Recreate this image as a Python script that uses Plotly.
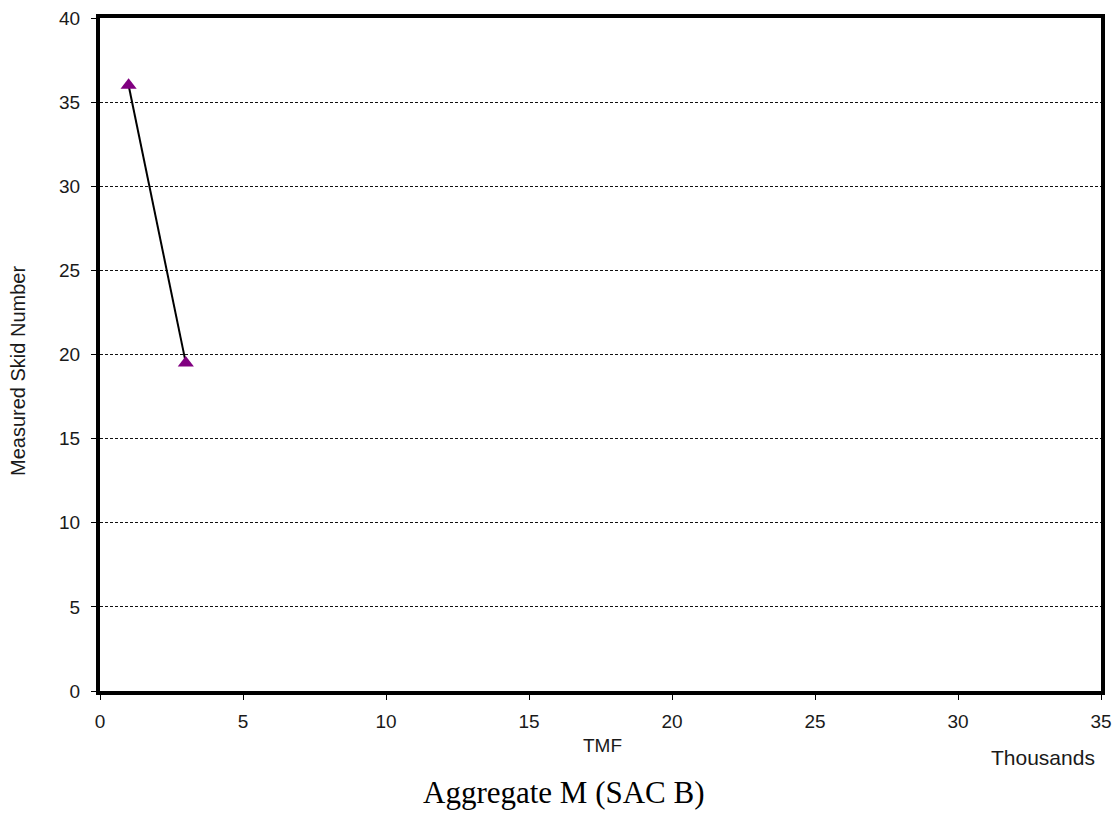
import plotly.graph_objects as go

tmf = [1000, 3000]
skid = [36.0, 19.5]
x_tickvals = [0, 5000, 10000, 15000, 20000, 25000, 30000, 35000]
x_ticktext = ["0", "5", "10", "15", "20", "25", "30", "35"]
y_tickvals = [0, 5, 10, 15, 20, 25, 30, 35, 40]

fig = go.Figure()
fig.add_trace(go.Scatter(
    x=tmf, y=skid, mode="lines+markers",
    line=dict(color="black", width=2),
    marker=dict(symbol="triangle-up", size=14, color="#800080"),
    showlegend=False,
))

W, H = 1115, 815
L, R, T, B = 100, 1101, 18, 691
PW, PH = R - L, B - T

def px(x):
    return (x - L) / PW

def py(y):
    return (B - y) / PH

font_sans = "Liberation Sans, Arial, sans-serif"
fig.update_layout(
    width=W, height=H,
    margin=dict(l=L, r=W - R, t=T, b=H - B, pad=0, autoexpand=False),
    paper_bgcolor="white", plot_bgcolor="white",
    font=dict(family=font_sans, size=19, color="#1a1a1a"),
    xaxis=dict(
        range=[0, 35000], tickvals=x_tickvals, ticktext=x_ticktext,
        showgrid=False, zeroline=False, automargin=False,
        showline=True, mirror=True, linewidth=4, linecolor="black",
        ticks="outside", ticklen=5, tickwidth=1, tickcolor="black",
        tickfont=dict(size=19), ticklabelstandoff=5, ticklabeloverflow="allow",
    ),
    yaxis=dict(
        range=[0, 40], tickvals=y_tickvals,
        showgrid=True, gridcolor="#111", gridwidth=1, griddash="3px,2px",
        zeroline=False, automargin=False,
        showline=True, mirror=True, linewidth=4, linecolor="black",
        ticks="outside", ticklen=5, tickwidth=1, tickcolor="black",
        tickfont=dict(size=19), ticklabelstandoff=7, ticklabeloverflow="allow",
    ),
)

fig.add_annotation(text="Measured Skid Number", xref="paper", yref="paper",
                   x=px(18), y=py(371), textangle=-90, showarrow=False,
                   font=dict(size=20), xanchor="center", yanchor="middle")
fig.add_annotation(text="TMF", xref="paper", yref="paper", x=px(602), y=py(745),
                   showarrow=False, font=dict(size=19), xanchor="center", yanchor="middle")
fig.add_annotation(text="Thousands", xref="paper", yref="paper", x=px(1043), y=py(757),
                   showarrow=False, font=dict(size=21), xanchor="center", yanchor="middle")
fig.add_annotation(text="Aggregate M (SAC B)", xref="paper", yref="paper", x=px(564), y=py(793),
                   showarrow=False, font=dict(size=31, family="Liberation Serif, Times New Roman, serif", color="black"),
                   xanchor="center", yanchor="middle")

fig.write_html("out.html", config={"displayModeBar": False},
               post_script="document.body.style.margin='0';document.body.style.overflow='hidden';")
